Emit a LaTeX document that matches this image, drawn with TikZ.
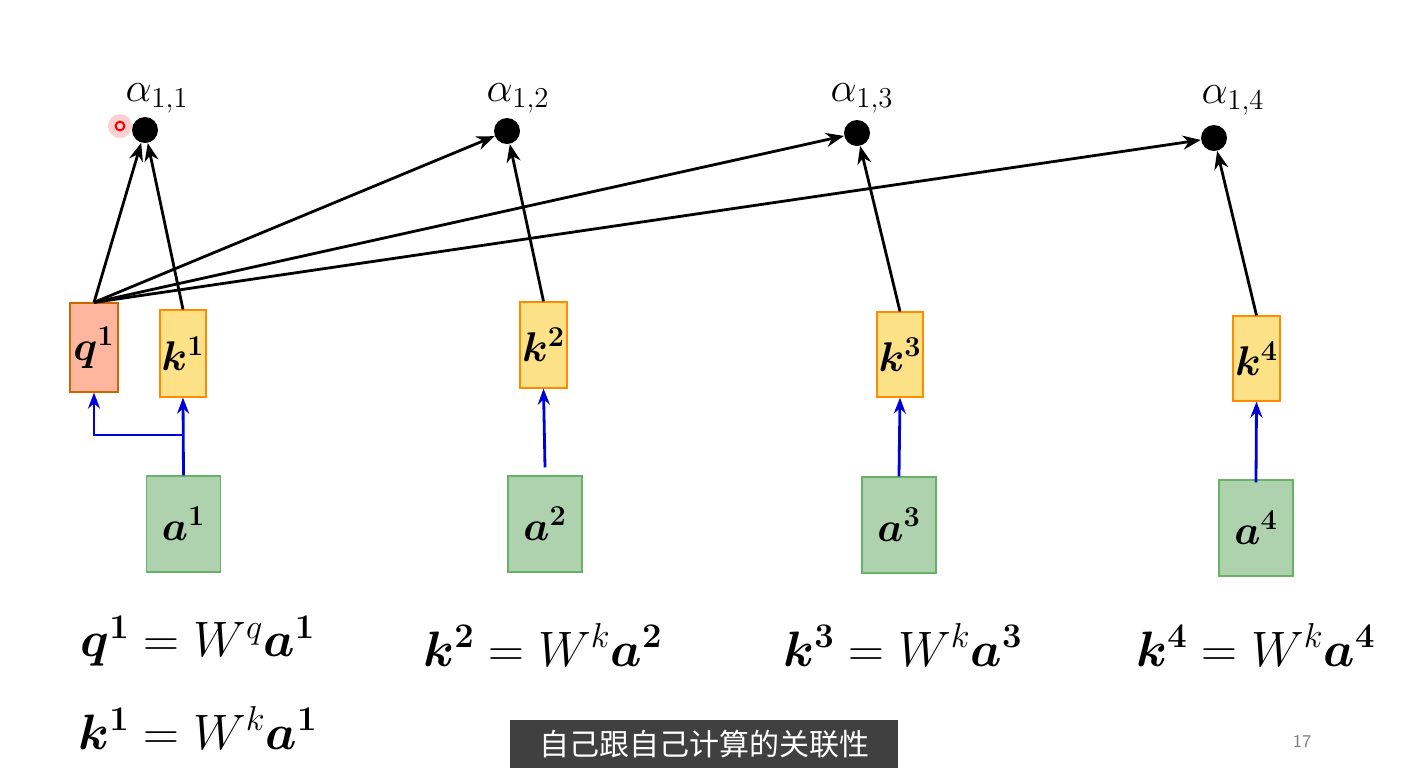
\documentclass[tikz,border=0pt]{standalone}
\usepackage{amsmath,bm}
\usepackage{fontspec}
\newfontfamily\cjk{Noto Sans CJK SC}
\usetikzlibrary{arrows.meta}
\begin{document}
\begin{tikzpicture}[x=0.5pt,y=-0.5pt,
  box/.style={draw, line width=0.6pt, inner sep=0pt, font=\fontsize{20.5}{24}\selectfont},
  qb/.style={box, fill=orange!50!red!38!white, draw=orange!80!black},
  kb/.style={box, fill=yellow!55!orange!45!white, draw=orange!90!yellow},
  ab/.style={box, fill=green!45!black!32!white, draw=green!50!black!60!white},
  dot/.style={circle, fill=black, inner sep=0pt, minimum size=13pt},
  blk/.style={-{Stealth[length=9pt,width=7pt]}, line width=1.4pt},
  blu/.style={-{Stealth[length=8pt,width=6pt]}, line width=1.4pt, blue!85!black},
  lab/.style={font=\fontsize{20}{22}\selectfont},
  eq/.style={font=\fontsize{25}{29}\selectfont}]
\useasboundingbox (0,0) rectangle (1425,768);
\fill[white] (0,0) rectangle (1425,768);
% dots
\node[dot] (d1) at (145,130) {};
\node[dot] (d2) at (507,131) {};
\node[dot] (d3) at (857,133) {};
\node[dot] (d4) at (1214,138) {};
\node[lab] (l1) at (157,98) {$\alpha_{1,1}$};
\node[lab] (l2) at (518,98) {$\alpha_{1,2}$};
\node[lab] (l3) at (862,98) {$\alpha_{1,3}$};
\node[lab] (l4) at (1233,100) {$\alpha_{1,4}$};
\fill[red!30, opacity=0.6] (120,126) circle (6pt);
\draw[red, line width=1pt] (120,126) circle (2.2pt);
% boxes
\node[qb, minimum width=24pt, minimum height=44.5pt] (q1) at (94,347.5) {$\bm{q^1}$};
\node[kb, minimum width=23pt, minimum height=43.5pt] (k1) at (183,353.5) {$\bm{k^1}$};
\node[kb, minimum width=23.5pt, minimum height=43pt] (k2) at (543.5,345) {$\bm{k^2}$};
\node[kb, minimum width=23pt, minimum height=42.5pt] (k3) at (900,354.5) {$\bm{k^3}$};
\node[kb, minimum width=23.5pt, minimum height=42.5pt] (k4) at (1256.5,358.5) {$\bm{k^4}$};
\node[ab, minimum width=37pt, minimum height=48pt] (a1) at (183.5,524) {$\bm{a^1}$};
\node[ab, minimum width=37pt, minimum height=48pt] (a2) at (545,524) {$\bm{a^2}$};
\node[ab, minimum width=37pt, minimum height=48pt] (a3) at (899,525) {$\bm{a^3}$};
\node[ab, minimum width=37pt, minimum height=48pt] (a4) at (1256,528) {$\bm{a^4}$};
% black arrows
\draw[blk] (q1.north) -- (d1);
\draw[blk] (q1.north) -- (d2);
\draw[blk] (q1.north) -- (d3);
\draw[blk] (q1.north) -- (d4);
\draw[blk] (k1.north) -- (d1);
\draw[blk] (k2.north) -- (d2);
\draw[blk] (k3.north) -- (d3);
\draw[blk] (k4.north) -- (d4);
% blue arrows
\coordinate (br) at (183,435);
\draw[blu] (a1.north) -- (k1.south);
\draw[blu] (br) -| (q1.south);
\draw[blu] ([yshift=4pt]a2.north) -- (k2.south);
\draw[blu] (a3.north) -- (k3.south);
\draw[blu] ([yshift=-1.5pt]a4.north) -- (k4.south);
% equations
\node[eq] (e1) at (198,641) {$\bm{q^1} = W^q\bm{a^1}$};
\node[eq] (e1b) at (198,728) {$\bm{k^1} = W^k\bm{a^1}$};
\node[eq] (e2) at (543,645) {$\bm{k^2} = W^k\bm{a^2}$};
\node[eq] (e3) at (903,645) {$\bm{k^3} = W^k\bm{a^3}$};
\node[eq] (e4) at (1256,645) {$\bm{k^4} = W^k\bm{a^4}$};
% caption
\node[fill=black!75, text=white, minimum width=194pt, minimum height=24pt, inner sep=0pt, font=\cjk\fontsize{15}{18}\selectfont] (cap) at (704,744) {自己跟自己计算的关联性};
\node[text=black!50, font=\sffamily\fontsize{9}{10}\selectfont] (pg) at (1302,741) {17};
\end{tikzpicture}
\end{document}
